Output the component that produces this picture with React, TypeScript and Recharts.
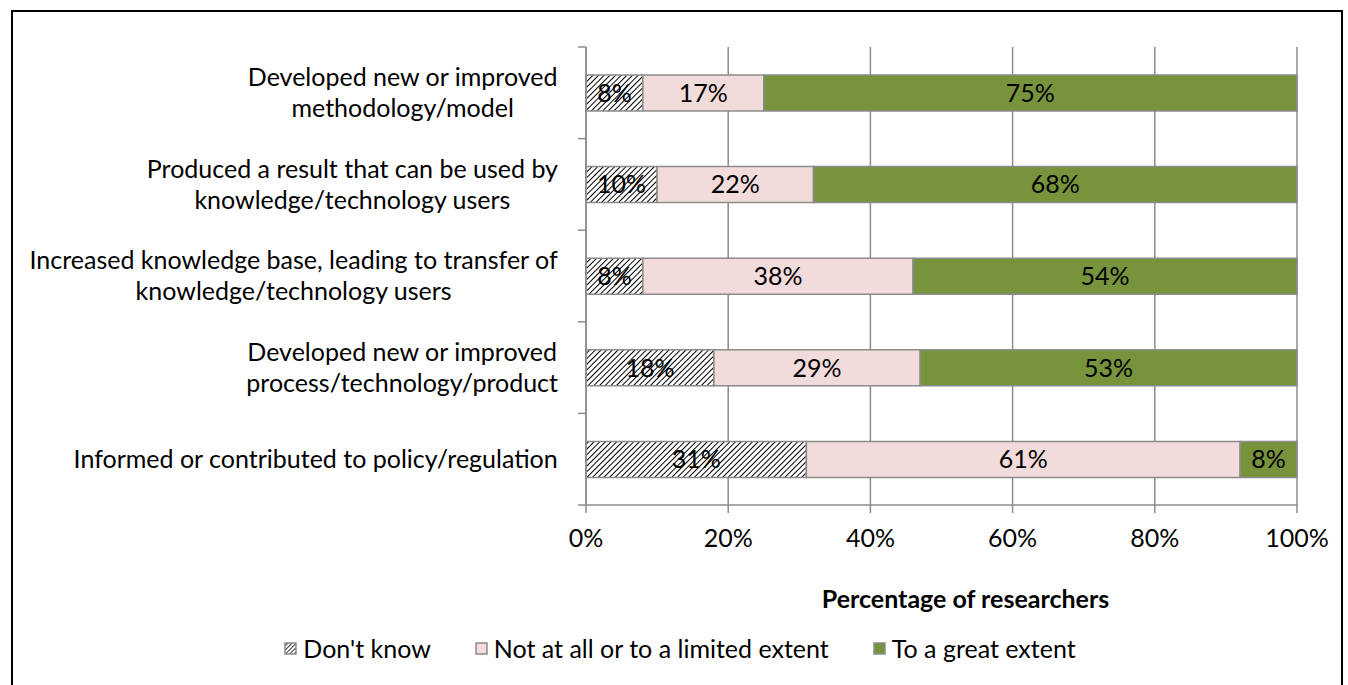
import React from 'react';
import { BarChart, Bar, XAxis, YAxis, CartesianGrid, LabelList, Legend, Label } from 'recharts';

const categories = [
  'Developed new or improved\nmethodology/model',
  'Produced a result that can be used by\nknowledge/technology users',
  'Increased knowledge base, leading to transfer of\nknowledge/technology users',
  'Developed new or improved\nprocess/technology/product',
  'Informed or contributed to policy/regulation',
];
const dontKnow = [8, 10, 8, 18, 31];
const limited = [17, 22, 38, 29, 61];
const great = [75, 68, 54, 53, 8];
const xTicks = [0, 20, 40, 60, 80, 100];
const seriesNames = ["Don't know", 'Not at all or to a limited extent', 'To a great extent'];

const data = categories.map((name, i) => ({
  name,
  dontKnow: dontKnow[i],
  limited: limited[i],
  great: great[i],
}));

const FONT = 'Lato, "Noto Sans", sans-serif';
const GRAY = '#8c8c8c';
const PINK = '#F2DCDB';
const GREEN = '#77933C';
const FS = 25;
const LINE_H = 30.7;

let ctx: CanvasRenderingContext2D | null = null;
function measure(text: string, size: number) {
  if (!ctx) ctx = document.createElement('canvas').getContext('2d');
  if (!ctx) return text.length * size * 0.48;
  ctx.font = `${size}px Lato`;
  return ctx.measureText(text).width;
}

function CategoryTick(props: any) {
  const { x, y, payload, index } = props;
  const lines = String(payload.value).split('\n');
  const maxW = Math.max(...lines.map((l) => measure(l, FS)));
  const cx = x - maxW / 2;
  const half = payload.offset || 45.8;
  const n = lines.length;
  return (
    <g>
      <line x1={x + 20} x2={x + 28} y1={y - half} y2={y - half} stroke={GRAY} strokeWidth={1.5} />
      {index === categories.length - 1 && (
        <line x1={x + 20} x2={x + 28} y1={y + half} y2={y + half} stroke={GRAY} strokeWidth={1.5} />
      )}
      <text textAnchor="middle" fontFamily={FONT} fontSize={FS} fill="#000">
        {lines.map((l, i) => (
          <tspan key={i} x={cx} y={y + (i - (n - 1) / 2) * LINE_H} dy="0.35em">
            {l}
          </tspan>
        ))}
      </text>
    </g>
  );
}

function Swatch({ idx }: { idx: number }) {
  const fill = idx === 0 ? 'url(#hatchLegend)' : idx === 1 ? PINK : GREEN;
  return (
    <svg width={13} height={13} style={{ marginRight: 6 }}>
      <defs>
        <pattern id="hatchLegend" width={3} height={3} patternUnits="userSpaceOnUse" patternTransform="rotate(45)">
          <rect width={3} height={3} fill="#fff" />
          <line x1={0} y1={0} x2={0} y2={3} stroke="#000" strokeWidth={1.6} />
        </pattern>
      </defs>
      <rect x={1} y={1} width={11} height={11} fill={fill} stroke={GRAY} strokeWidth={1.5} />
    </svg>
  );
}

function LegendBox() {
  return (
    <div
      style={{
        display: 'flex',
        justifyContent: 'center',
        alignItems: 'center',
        gap: 44,
        height: 30,
        paddingLeft: 12,
        fontFamily: FONT,
        fontSize: FS,
        color: '#000',
      }}
    >
      {seriesNames.map((s, i) => (
        <div key={s} style={{ display: 'flex', alignItems: 'center' }}>
          <Swatch idx={i} />
          <span>{s}</span>
        </div>
      ))}
    </div>
  );
}

const pct = (v: any) => `${v}%`;

export default function App() {
  return (
    <div style={{ position: 'relative', width: 1348, height: 685, overflow: 'hidden', background: '#fff' }}>
      <style>{'body{margin:0;overflow:hidden}'}</style>
      <div
        style={{
          position: 'absolute',
          left: 11,
          top: 10,
          width: 1332,
          height: 700,
          border: '2px solid #000',
          boxSizing: 'border-box',
        }}
      />
      <BarChart
        width={1348}
        height={685}
        data={data}
        layout="vertical"
        barSize={36}
        margin={{ top: 47, right: 51, left: 0, bottom: 110 }}
        style={{ position: 'absolute', left: 0, top: 0 }}
      >
        <defs>
          <pattern id="hatch" width={4} height={4} patternUnits="userSpaceOnUse" patternTransform="rotate(45)">
            <rect width={4} height={4} fill="#fff" />
            <line x1={0} y1={0} x2={0} y2={4} stroke="#000" strokeWidth={2} />
          </pattern>
        </defs>
        <CartesianGrid horizontal={false} stroke={GRAY} strokeWidth={1.5} />
        <XAxis
          type="number"
          domain={[0, 100]}
          ticks={xTicks}
          tickFormatter={pct}
          height={40}
          tickSize={8}
          tickMargin={16}
          axisLine={{ stroke: GRAY, strokeWidth: 1.5 }}
          tickLine={{ stroke: GRAY, strokeWidth: 1.5 }}
          tick={{ fill: '#000', fontSize: FS, fontFamily: FONT }}
          interval={0}
        >
          <Label
            content={(p: any) => {
              const vb = p.viewBox || { x: 586, y: 505, width: 711 };
              return (
                <text
                  x={vb.x + vb.width / 2 + 24}
                  y={vb.y + 103}
                  textAnchor="middle"
                  fontFamily={FONT}
                  fontSize={FS}
                  fontWeight="bold"
                  fill="#000"
                >
                  Percentage of researchers
                </text>
              );
            }}
          />
        </XAxis>
        <YAxis
          type="category"
          dataKey="name"
          width={586}
          tickSize={8}
          tickMargin={20}
          tickLine={false}
          axisLine={{ stroke: GRAY, strokeWidth: 1.5 }}
          tick={<CategoryTick />}
          interval={0}
        />
        <Legend verticalAlign="bottom" wrapperStyle={{ top: 633, left: 0, width: 1348 }} content={() => <LegendBox />} />
        <Bar dataKey="dontKnow" name={seriesNames[0]} stackId="a" fill="url(#hatch)" stroke={GRAY} strokeWidth={1.5} isAnimationActive={false}>
          <LabelList dataKey="dontKnow" position="center" formatter={pct} fill="#000" fontSize={FS} fontFamily={FONT} />
        </Bar>
        <Bar dataKey="limited" name={seriesNames[1]} stackId="a" fill={PINK} stroke={GRAY} strokeWidth={1.5} isAnimationActive={false}>
          <LabelList dataKey="limited" position="center" formatter={pct} fill="#000" fontSize={FS} fontFamily={FONT} />
        </Bar>
        <Bar dataKey="great" name={seriesNames[2]} stackId="a" fill={GREEN} stroke={GRAY} strokeWidth={1.5} isAnimationActive={false}>
          <LabelList dataKey="great" position="center" formatter={pct} fill="#000" fontSize={FS} fontFamily={FONT} />
        </Bar>
      </BarChart>
    </div>
  );
}
